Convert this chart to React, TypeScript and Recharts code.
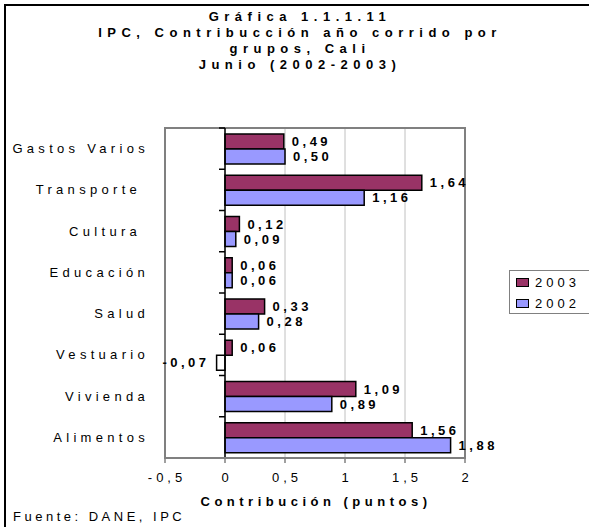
import React from 'react';
import {
  BarChart, Bar, XAxis, YAxis, CartesianGrid, ReferenceLine, ReferenceArea,
  LabelList, Legend, Cell,
} from 'recharts';

// groups, top to bottom as drawn
const CATEGORIES = ['Gastos Varios', 'Transporte ', 'Cultura ', 'Educación', 'Salud', 'Vestuario', 'Vivienda', 'Alimentos'];
const VALUES_2003 = [0.49, 1.64, 0.12, 0.06, 0.33, 0.06, 1.09, 1.56];
const VALUES_2002 = [0.5, 1.16, 0.09, 0.06, 0.28, -0.07, 0.89, 1.88];
const X_TICKS = [-0.5, 0, 0.5, 1, 1.5, 2];
const SERIES_ORDER = ['2003', '2002'];
const TITLE_LINES = ['Gráfica 1.1.1.11', 'IPC, Contribucción año corrido por', 'grupos, Cali', 'Junio (2002-2003)'];
const X_LABEL = 'Contribución (puntos)';
const SOURCE = 'Fuente: DANE, IPC';

const COLOR_2003 = '#993366';
const COLOR_2002 = '#9999FF';
const FONT = '"Liberation Sans", Arial, sans-serif';

const W = 589;
const H = 527;
const PLOT = { left: 165, right: 465, top: 128, bottom: 458 };
const X_MIN = -0.5;
const X_MAX = 2;
const ZERO_X = PLOT.left + ((0 - X_MIN) / (X_MAX - X_MIN)) * (PLOT.right - PLOT.left);
const BAND = (PLOT.bottom - PLOT.top) / CATEGORIES.length;
const X_AXIS_H = 30;

const data = CATEGORIES.map((name, i) => ({ name, y2003: VALUES_2003[i], y2002: VALUES_2002[i] }));

const fmt = (v: number) => v.toFixed(2).replace('.', ',');

function ValueLabel(props: any) {
  const { x, y, width, height, value } = props;
  const left = Math.min(x, x + width);
  const right = Math.max(x, x + width);
  const neg = value < 0;
  return (
    <text
      x={neg ? left - 7 : right + 8}
      y={y + height / 2}
      textAnchor={neg ? 'end' : 'start'}
      dominantBaseline="central"
      fontFamily={FONT}
      fontSize={13}
      fontWeight="bold"
      letterSpacing={3.5}
      fill="#000"
    >
      {fmt(value)}
    </text>
  );
}

function CategoryTick(props: any) {
  const { y, payload } = props;
  return (
    <g>
      <text
        x={149}
        y={y}
        textAnchor="end"
        dominantBaseline="central"
        fontFamily={FONT}
        fontSize={13}
        letterSpacing={4.3}
        fill="#000"
        style={{ whiteSpace: 'pre' }}
      >
        {payload.value}
      </text>
      <line x1={ZERO_X - 6} x2={ZERO_X} y1={y - BAND / 2} y2={y - BAND / 2} stroke="#000" strokeWidth={1.5} />
    </g>
  );
}

function ValueTick(props: any) {
  const { x, y, payload } = props;
  return (
    <text x={x + 2} y={y} dy="0.71em" textAnchor="middle" fontFamily={FONT} fontSize={13} letterSpacing={4} fill="#000">
      {String(payload.value).replace('.', ',')}
    </text>
  );
}

function LegendBox({ payload }: any) {
  const items = [...(payload || [])].sort(
    (a: any, b: any) => SERIES_ORDER.indexOf(a.value) - SERIES_ORDER.indexOf(b.value),
  );
  return (
    <div
      style={{
        boxSizing: 'border-box', width: 82, height: 44, border: '1px solid #808080',
        padding: '1px 0 0 6px', fontFamily: FONT, fontSize: 13, letterSpacing: 4, color: '#000', background: '#fff',
      }}
    >
      {items.map((p: any) => (
        <div key={p.value} style={{ display: 'flex', alignItems: 'center', height: 21 }}>
          <span
            style={{
              boxSizing: 'border-box', width: 13, height: 9, background: p.color,
              border: '1.5px solid #000', marginRight: 6, display: 'inline-block',
            }}
          />
          {p.value}
        </div>
      ))}
    </div>
  );
}

export default function App() {
  return (
    <div style={{ position: 'relative', width: W, height: H, overflow: 'hidden', background: '#fff' }}>
      <style>{'body{margin:0}'}</style>
      <BarChart
        width={W}
        height={H}
        data={data}
        layout="vertical"
        barGap={0}
        margin={{ top: PLOT.top, right: W - PLOT.right, bottom: H - PLOT.bottom - X_AXIS_H, left: 0 }}
      >
        <CartesianGrid horizontal={false} stroke="#c0c0c0" />
        <XAxis
          type="number"
          domain={[X_MIN, X_MAX]}
          ticks={X_TICKS}
          height={X_AXIS_H}
          axisLine={{ stroke: '#808080', strokeWidth: 2 }}
          tickLine={{ stroke: '#808080', strokeWidth: 1.5 }}
          tickSize={5}
          tickMargin={10}
          tick={<ValueTick />}
        />
        <YAxis
          type="category"
          dataKey="name"
          width={PLOT.left}
          axisLine={false}
          tickLine={false}
          interval={0}
          tick={<CategoryTick />}
        />
        <ReferenceArea x1={X_MIN} x2={X_MAX} fill="none" stroke="#808080" strokeWidth={2} fillOpacity={0} />
        <Legend
          layout="horizontal"
          verticalAlign="middle"
          align="center"
          wrapperStyle={{ left: 509, top: 270, width: 82, height: 44 }}
          content={<LegendBox />}
        />
        <Bar dataKey="y2003" name="2003" fill={COLOR_2003} stroke="#000" strokeWidth={1.5} barSize={15} isAnimationActive={false}>
          <LabelList dataKey="y2003" content={<ValueLabel />} />
        </Bar>
        <Bar dataKey="y2002" name="2002" fill={COLOR_2002} stroke="#000" strokeWidth={1.5} barSize={15} isAnimationActive={false}>
          {data.map((d, i) => (
            <Cell key={i} fill={d.y2002 < 0 ? '#fff' : COLOR_2002} />
          ))}
          <LabelList dataKey="y2002" content={<ValueLabel />} />
        </Bar>
        <ReferenceLine x={0} stroke="#000" strokeWidth={1.5} />
      </BarChart>

      <div
        style={{
          position: 'absolute', left: 4, top: 4, width: 700, height: 700,
          border: '2px solid #000', pointerEvents: 'none',
        }}
      />
      <div
        style={{
          position: 'absolute', left: 0, top: 9, width: 600, textAlign: 'center',
          fontFamily: FONT, fontSize: 13, fontWeight: 'bold', letterSpacing: 5.5, lineHeight: '16px', color: '#000',
        }}
      >
        {TITLE_LINES.map((t) => <div key={t}>{t}</div>)}
      </div>
      <div
        style={{
          position: 'absolute', left: 0, top: 494, width: 632, textAlign: 'center',
          fontFamily: FONT, fontSize: 13, fontWeight: 'bold', letterSpacing: 4.5, lineHeight: '16px', color: '#000',
        }}
      >
        {X_LABEL}
      </div>
      <div
        style={{
          position: 'absolute', left: 13, top: 509,
          fontFamily: FONT, fontSize: 13, letterSpacing: 3.5, lineHeight: '16px', color: '#000',
        }}
      >
        {SOURCE}
      </div>
    </div>
  );
}
